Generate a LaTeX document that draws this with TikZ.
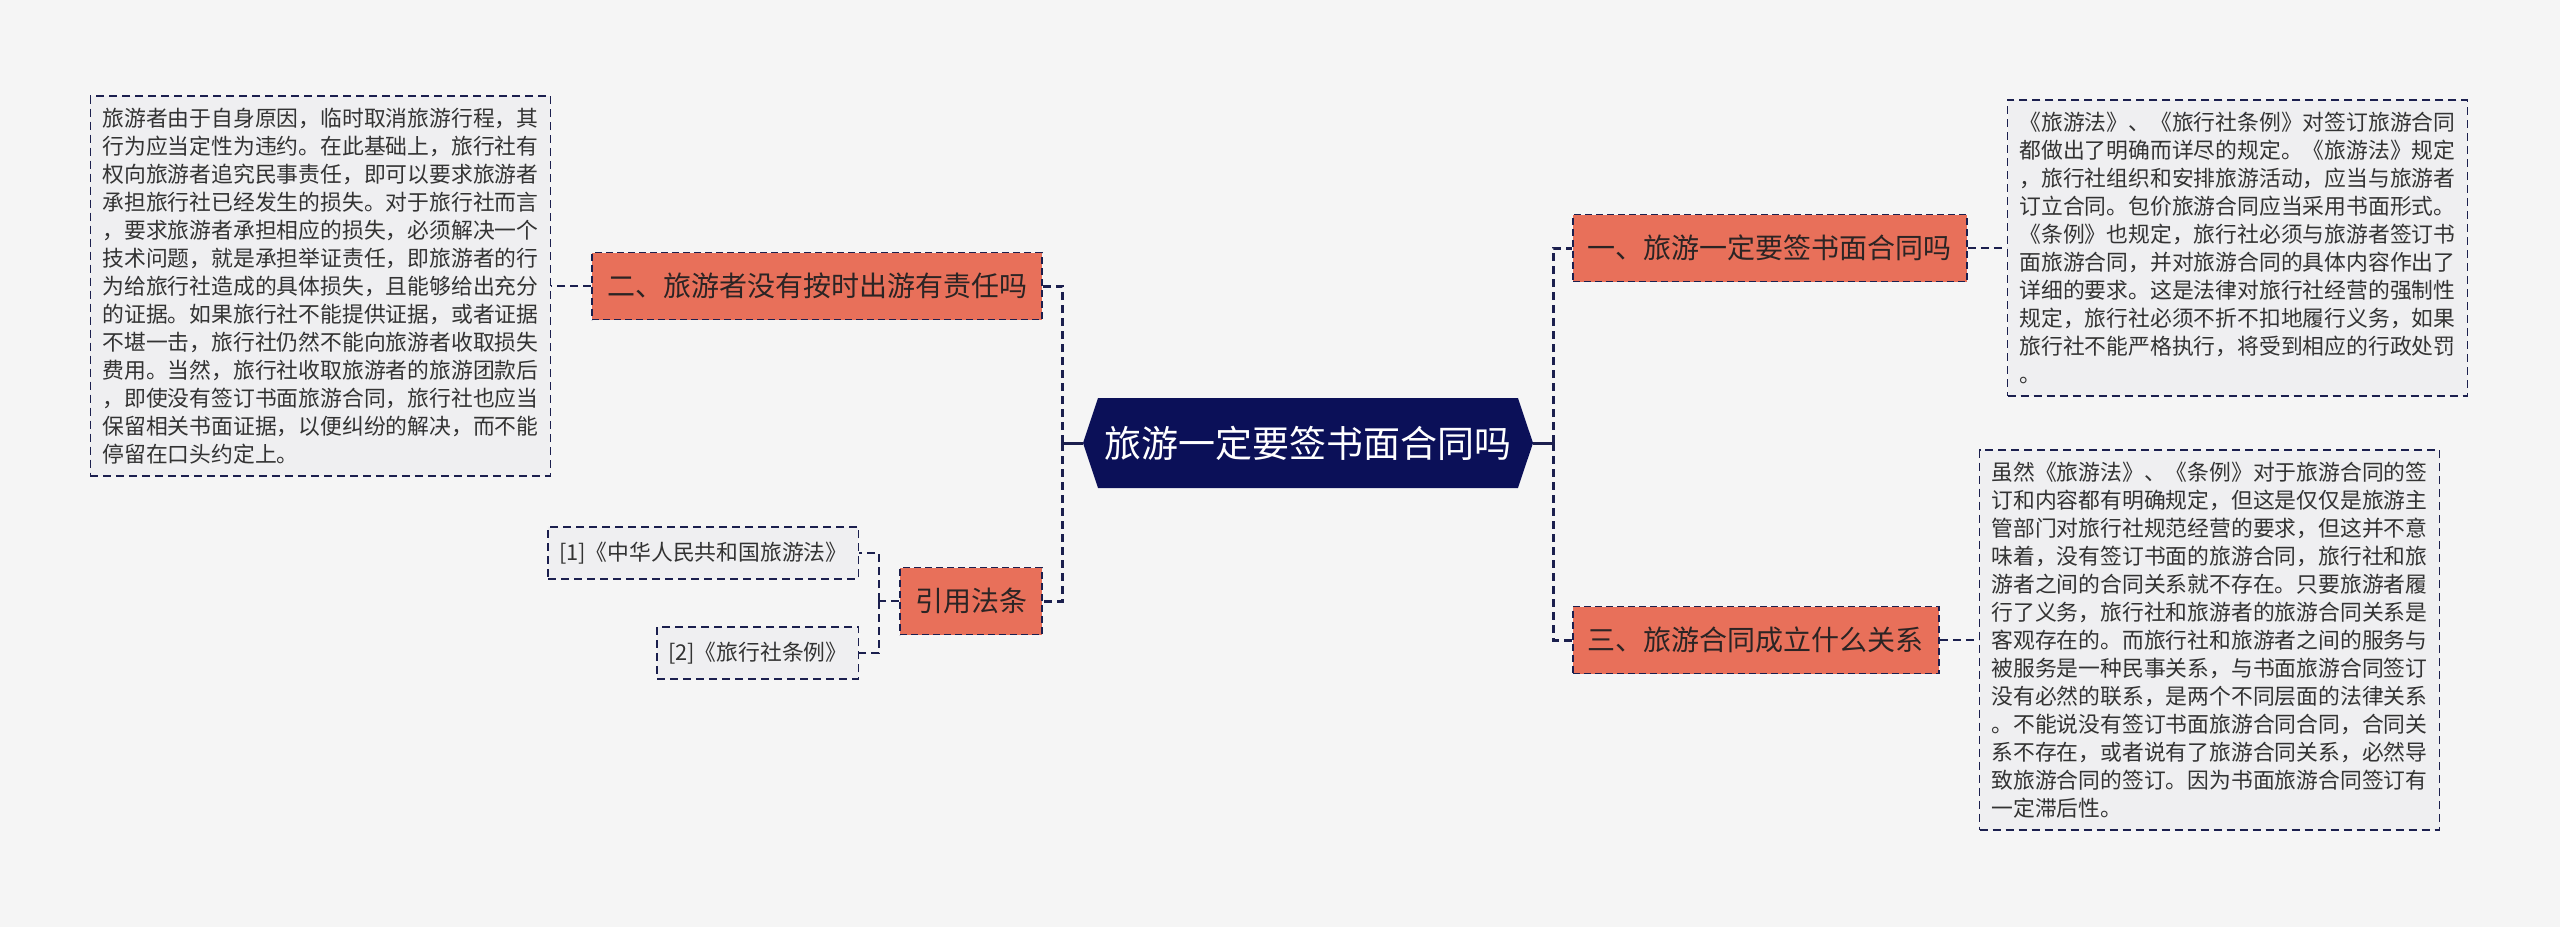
\documentclass[tikz,border=0pt]{standalone}
\usepackage{fontspec}
\setmainfont{Noto Sans CJK SC}
\usetikzlibrary{positioning,shapes.symbols}
\definecolor{bgcol}{HTML}{F5F5F5}
\definecolor{rootcol}{HTML}{0B1058}
\definecolor{branchcol}{HTML}{E8705A}
\definecolor{leafcol}{HTML}{EFEFF1}
\definecolor{linecol}{HTML}{1B1F4E}
\definecolor{textcol}{HTML}{333333}
\definecolor{darktext}{HTML}{2B2424}
\tikzset{root node/.style={signal,signal to=west and east,signal pointer angle=143,fill=rootcol,text=white,minimum width=450pt,minimum height=90pt,inner sep=0pt,font=\fontsize{37}{44}\selectfont},
	branch node/.style={rectangle,fill=branchcol,draw=linecol,line width=1.8pt,dash pattern=on 7pt off 4pt,minimum height=67pt,inner xsep=15pt,inner ysep=0pt,text=darktext,font=\fontsize{28}{34}\selectfont},
	box node/.style={rectangle,fill=leafcol,draw=linecol,line width=1.5pt,dash pattern=on 8pt off 5pt,text=textcol,font=\fontsize{21.8}{28}\selectfont},
	leaf node/.style={box node,text width=436pt,align=left,inner xsep=12pt,inner ysep=12pt},
	ref node/.style={box node,minimum height=52pt,inner xsep=11pt,inner ysep=0pt},
	stem line/.style={draw=linecol,line width=3pt},
	trunk line/.style={draw=linecol,line width=3pt,dash pattern=on 8pt off 5pt},
	twig line/.style={draw=linecol,line width=1.8pt,dash pattern=on 8pt off 5pt},
}
\begin{document}
\begin{tikzpicture}[x=1pt,y=-1pt]
	\path[use as bounding box,fill=bgcol] (0,0) rectangle (2560,927);
	
	\node[root node] (root) at (1308,443) {旅游一定要签书面合同吗};
	\node[branch node,anchor=west] (b1) at (1572,248) {一、旅游一定要签书面合同吗};
	\node[branch node,anchor=west] (b3) at (1572,640) {三、旅游合同成立什么关系};
	\node[branch node,anchor=east] (b2) at (1043,286) {二、旅游者没有按时出游有责任吗};
	\node[branch node,anchor=east] (cite) at (1043,601) {引用法条};
	
	\node[leaf node] (t1) [right=39pt of b1] {《旅游法》、《旅行社条例》对签订旅游合同\\
		都做出了明确而详尽的规定。《旅游法》规定\\
		，旅行社组织和安排旅游活动，应当与旅游者\\
		订立合同。包价旅游合同应当采用书面形式。\\
		《条例》也规定，旅行社必须与旅游者签订书\\
		面旅游合同，并对旅游合同的具体内容作出了\\
		详细的要求。这是法律对旅行社经营的强制性\\
		规定，旅行社必须不折不扣地履行义务，如果\\
		旅行社不能严格执行，将受到相应的行政处罚\\
		。};
	\node[leaf node] (t3) [right=39pt of b3] {虽然《旅游法》、《条例》对于旅游合同的签\\
		订和内容都有明确规定，但这是仅仅是旅游主\\
		管部门对旅行社规范经营的要求，但这并不意\\
		味着，没有签订书面的旅游合同，旅行社和旅\\
		游者之间的合同关系就不存在。只要旅游者履\\
		行了义务，旅行社和旅游者的旅游合同关系是\\
		客观存在的。而旅行社和旅游者之间的服务与\\
		被服务是一种民事关系，与书面旅游合同签订\\
		没有必然的联系，是两个不同层面的法律关系\\
		。不能说没有签订书面旅游合同合同，合同关\\
		系不存在，或者说有了旅游合同关系，必然导\\
		致旅游合同的签订。因为书面旅游合同签订有\\
		一定滞后性。};
	\node[leaf node] (t2) [left=40pt of b2] {旅游者由于自身原因，临时取消旅游行程，其\\
		行为应当定性为违约。在此基础上，旅行社有\\
		权向旅游者追究民事责任，即可以要求旅游者\\
		承担旅行社已经发生的损失。对于旅行社而言\\
		，要求旅游者承担相应的损失，必须解决一个\\
		技术问题，就是承担举证责任，即旅游者的行\\
		为给旅行社造成的具体损失，且能够给出充分\\
		的证据。如果旅行社不能提供证据，或者证据\\
		不堪一击，旅行社仍然不能向旅游者收取损失\\
		费用。当然，旅行社收取旅游者的旅游团款后\\
		，即使没有签订书面旅游合同，旅行社也应当\\
		保留相关书面证据，以便纠纷的解决，而不能\\
		停留在口头约定上。};
	\node[ref node] (r1) [left=40pt of cite,yshift=48pt] {[1]《中华人民共和国旅游法》};
	\node[ref node] (r2) [left=40pt of cite,yshift=-52pt] {[2]《旅行社条例》};
	
	\coordinate (lt) at ([xshift=-20pt]root.west);
	\coordinate (rt) at ([xshift=20pt]root.east);
	\coordinate (ct) at ([xshift=-20pt]cite.west);
	
	\path[stem line] (root.west) -- (lt) (root.east) -- (rt);
	\path[trunk line] (lt) |- (b2.east) (lt) |- (cite.east)
		(rt) |- (b1.west) (rt) |- (b3.west);
	\path[twig line] (b1.east) -- (t1.west) (b3.east) -- (t3.west)
		(b2.west) -- (t2.east) (cite.west) -- (ct)
		(ct) |- (r1.east) (ct) |- (r2.east);
	
\end{tikzpicture}
\end{document}
